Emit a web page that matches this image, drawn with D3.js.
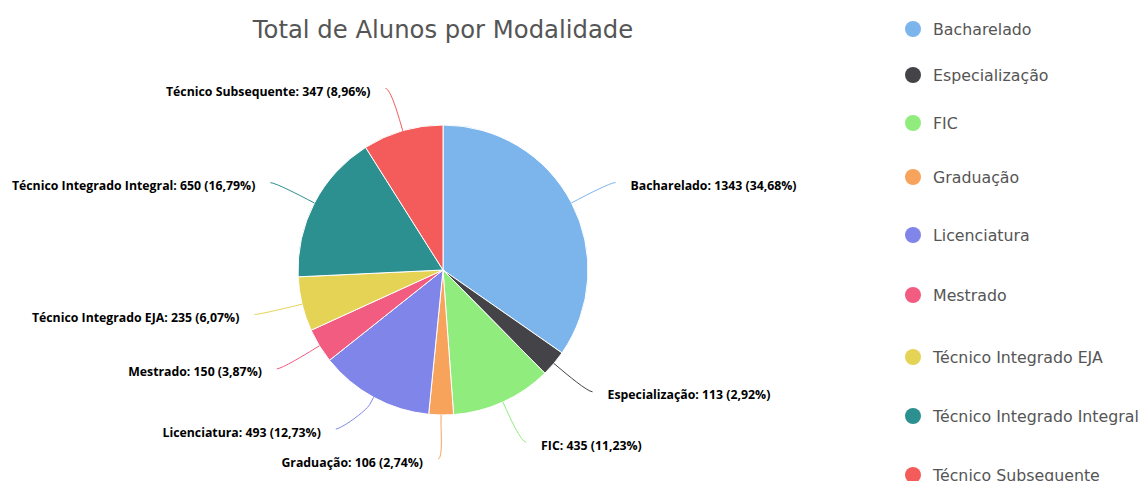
<!DOCTYPE html>
<html>
<head>
<meta charset="utf-8">
<script src="https://cdn.jsdelivr.net/npm/d3@7/dist/d3.min.js"></script>
<style>
  html, body { margin: 0; padding: 0; background: #fff; }
  svg { display: block; }
</style>
</head>
<body>
<svg id="chart" width="1142" height="481"></svg>
<script>
const title = "Total de Alunos por Modalidade";
const categories = ["Bacharelado", "Especialização", "FIC", "Graduação", "Licenciatura",
  "Mestrado", "Técnico Integrado EJA", "Técnico Integrado Integral", "Técnico Subsequente"];
const values = [1343, 113, 435, 106, 493, 150, 235, 650, 347];
const colors = ["#7cb5ec", "#434348", "#90ed7d", "#f7a35c", "#8085e9",
  "#f15c80", "#e4d354", "#2b908f", "#f45b5b"];
// legend row positions (layout)
const legendY = [29, 75, 123, 177, 235, 295, 357, 416, 475];

const W = 1142, H = 481;
const cx = 443, cy = 270, r = 145;
const labelR = 189;
const svg = d3.select("#chart");

svg.append("text")
  .attr("x", cx).attr("y", 38)
  .attr("text-anchor", "middle")
  .style("font-family", "'DejaVu Sans', Verdana, sans-serif")
  .style("font-size", "24.3px")
  .style("fill", "#555")
  .text(title);

const total = d3.sum(values);
const pie = d3.pie().sort(null).value(d => d);
const arcs = pie(values);
const arc = d3.arc().innerRadius(0).outerRadius(r);

const g = svg.append("g").attr("transform", `translate(${cx},${cy})`);
g.selectAll("path.slice").data(arcs).enter().append("path")
  .attr("class", "slice")
  .attr("d", arc)
  .attr("fill", (d, i) => colors[i])
  .attr("stroke", "#fff")
  .attr("stroke-width", 1)
  .attr("stroke-linejoin", "round");

// label layout (Highcharts-like)
const labels = arcs.map((d, i) => {
  const mid = (d.startAngle + d.endAngle) / 2;
  const right = mid < Math.PI;
  return {
    i, mid, right,
    tx: cx + r * Math.sin(mid), ty: cy - r * Math.cos(mid),
    y: cy - labelR * Math.cos(mid)
  };
});
const gap = 30, maxY = H - 22, minY = 20;
[true, false].forEach(side => {
  const arr = labels.filter(l => l.right === side).sort((a, b) => a.y - b.y);
  for (let k = 0; k < arr.length; k++) {
    if (k === 0) arr[k].y = Math.max(arr[k].y, minY);
    else arr[k].y = Math.max(arr[k].y, arr[k - 1].y + gap);
  }
  for (let k = arr.length - 1; k >= 0; k--) {
    if (k === arr.length - 1) arr[k].y = Math.min(arr[k].y, maxY);
    else arr[k].y = Math.min(arr[k].y, arr[k + 1].y - gap);
  }
});
labels.forEach(l => {
  const dy = l.y - cy;
  const dx = Math.sqrt(Math.max(0, labelR * labelR - dy * dy)) + 5;
  l.x = cx + (l.right ? dx : -dx);
  const off = 8;
  l.bx = l.tx + off * Math.sin(l.mid);
  l.by = l.ty - off * Math.cos(l.mid);
});

const lg = svg.append("g");
lg.selectAll("path.conn").data(labels).enter().append("path")
  .attr("class", "conn")
  .attr("fill", "none")
  .attr("stroke", l => colors[l.i])
  .attr("stroke-width", 1)
  .attr("d", l => {
    const c1x = l.x + (l.right ? -5 : 5);
    const c2x = 2 * l.bx - l.tx, c2y = 2 * l.by - l.ty;
    return `M${l.x},${l.y} C${c1x},${l.y} ${c2x},${c2y} ${l.bx},${l.by} L${l.tx},${l.ty}`;
  });

const fmtPct = v => (v / total * 100).toFixed(2).replace(".", ",") + "%";
lg.selectAll("text.lbl").data(labels).enter().append("text")
  .attr("class", "lbl")
  .attr("x", l => l.x + (l.right ? 15 : -15))
  .attr("y", l => l.y + 7.5)
  .attr("text-anchor", l => l.right ? "start" : "end")
  .style("font-family", "'Open Sans', 'DejaVu Sans', sans-serif")
  .style("font-weight", "bold")
  .style("font-size", "12.3px")
  .style("fill", "#000")
  .style("stroke", "#fff")
  .style("stroke-width", "2px")
  .style("paint-order", "stroke")
  .style("stroke-linejoin", "round")
  .text(l => `${categories[l.i]}: ${values[l.i]} (${fmtPct(values[l.i])})`);

// legend
const leg = svg.append("g");
const items = leg.selectAll("g.item").data(categories).enter().append("g")
  .attr("class", "item")
  .attr("transform", (d, i) => `translate(913,${legendY[i]})`);
items.append("circle").attr("r", 8).attr("fill", (d, i) => colors[i]);
items.append("text")
  .attr("x", 20).attr("y", 5.5)
  .style("font-family", "'DejaVu Sans', Verdana, sans-serif")
  .style("font-size", "15.8px")
  .style("fill", "#555")
  .text(d => d);
</script>
</body>
</html>
